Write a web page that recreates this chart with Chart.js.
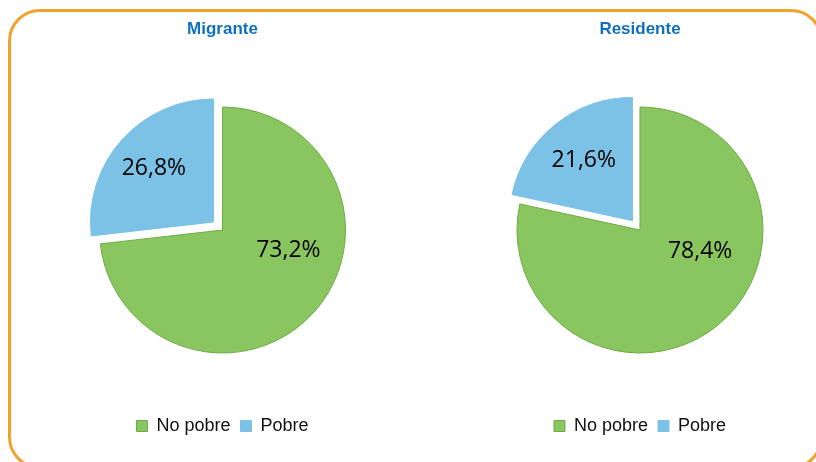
<!DOCTYPE html>
<html>
<head>
<meta charset="utf-8">
<script src="https://cdn.jsdelivr.net/npm/chart.js@4.4.1/dist/chart.umd.min.js"></script>
<style>
  html, body { margin: 0; padding: 0; background: #fff; }
  body { width: 816px; height: 462px; position: relative; overflow: hidden; }
  .marco {
    position: absolute; left: 8px; top: 9px; width: 815px; height: 460px;
    border: 3px solid #F0A22E; border-radius: 32px; box-sizing: border-box;
  }
  .caja { position: absolute; top: 0; height: 462px; }
  #c1 { left: 0; width: 445px; }
  #c2 { left: 464px; width: 352px; }
</style>
</head>
<body>
<div class="marco"></div>
<div class="caja" id="c1"><canvas id="pieMigrante"></canvas></div>
<div class="caja" id="c2"><canvas id="pieResidente"></canvas></div>
<script>
// datos
const categorias = ['No pobre', 'Pobre'];
const valoresMigrante = [73.2, 26.8];
const valoresResidente = [78.4, 21.6];
const colores = ['#8AC65F', '#7CC1E6'];
const bordes = ['#6EAB47', '#7CC1E6'];

// etiquetas de porcentaje dentro de cada porción
const etiquetasPlugin = {
    id: 'etiquetas',
    afterDatasetsDraw(chart, args, opts) {
        const ctx = chart.ctx;
        const meta = chart.getDatasetMeta(0);
        const ds = chart.data.datasets[0];
        ctx.save();
        ctx.font = '23px "Open Sans"';
        ctx.fillStyle = '#000';
        ctx.textAlign = 'center';
        ctx.textBaseline = 'middle';
        meta.data.forEach((arc, i) => {
            const p = arc.getProps(['x', 'y', 'startAngle', 'endAngle', 'outerRadius']);
            const mid = (p.startAngle + p.endAngle) / 2;
            // chart.js desplaza la porción offset/4 px
            const off = (Array.isArray(ds.offset) ? ds.offset[i] : 0) / 4;
            const ang = opts.angulo[i] != null ? (opts.angulo[i] - 90) * Math.PI / 180 : mid;
            const d = p.outerRadius * opts.radio[i];
            const x = p.x + Math.cos(mid) * off + Math.cos(ang) * d;
            const y = p.y + Math.sin(mid) * off + Math.sin(ang) * d;
            ctx.fillText(ds.data[i].toFixed(1).replace('.', ',') + '%', x, y);
        });
        ctx.restore();
    }
};

function crearPie(id, titulo, valores, angulos, radios) {
    const ctx = document.getElementById(id).getContext('2d');
    return new Chart(ctx, {
        type: 'pie',
        data: {
            labels: categorias,
            datasets: [{
                data: valores,
                backgroundColor: colores,
                borderColor: bordes,
                borderWidth: 1,
                offset: [0, 48]
            }]
        },
        options: {
            responsive: true,
            maintainAspectRatio: false,
            animation: false,
            radius: 123,
            layout: { padding: { bottom: 17 } },
            plugins: {
                title: {
                    display: true,
                    text: titulo,
                    color: '#1170BD',
                    font: { family: '"Liberation Sans", Arial', size: 17, weight: 'bold' },
                    padding: { top: 19, bottom: 13.6 }
                },
                legend: {
                    position: 'bottom',
                    labels: {
                        boxWidth: 11,
                        boxHeight: 11,
                        color: '#111',
                        padding: 10,
                        font: { family: '"Liberation Sans", Arial', size: 18 }
                    }
                },
                tooltip: { enabled: false },
                etiquetas: { angulo: angulos, radio: radios }
            }
        },
        plugins: [etiquetasPlugin]
    });
}

crearPie('pieMigrante', 'Migrante', valoresMigrante, [107, null], [0.56, 0.65]);
crearPie('pieResidente', 'Residente', valoresResidente, [110, null], [0.52, 0.63]);
</script>
</body>
</html>
